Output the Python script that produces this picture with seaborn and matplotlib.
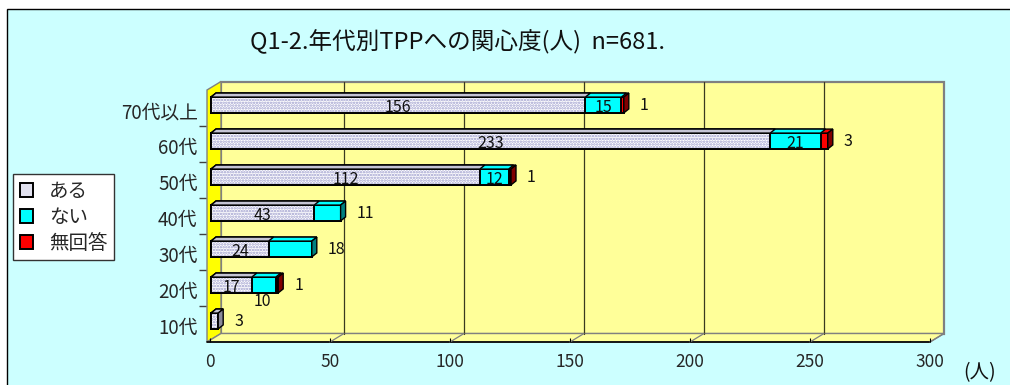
import matplotlib
matplotlib.use("Agg")
import numpy as np
import pandas as pd
import matplotlib.pyplot as plt
import seaborn as sns
from matplotlib.patches import Polygon, Rectangle, Patch
from matplotlib.lines import Line2D
from matplotlib.transforms import IdentityTransform, ScaledTranslation

# ---- survey counts by age group ----
age_groups = ["70代以上", "60代", "50代", "40代", "30代", "20代", "10代"]
aru = [156, 233, 112, 43, 24, 17, 3]          # ある
nai = [15, 21, 12, 11, 18, 10, 0]             # ない
no_answer = [1, 3, 1, 0, 0, 1, 0]             # 無回答
series_names = ["ある", "ない", "無回答"]
x_ticks = [0, 50, 100, 150, 200, 250, 300]
title_text = "Q1-2.年代別TPPへの関心度(人)  n=681."
unit_text = "(人)"

# value-label placement that differs from the default
label_place = {
    ("ない", "40代"): "right",
    ("ない", "30代"): "right",
    ("ない", "20代"): "below",
    ("ある", "10代"): "right",
}

# ---- style ----
W, H, DPI = 1010, 385, 100
BG = "#CCFFFF"
WALL = "#FFFF99"
SIDE_WALL = "#FFFF00"
FRAME_GREY = "#808080"
DOT = "#9C9CCC"
CYAN = "#00FFFF"
RED = "#FF0000"
top_col = {"ある": "#C4C4D4", "ない": CYAN, "無回答": RED}
side_col = {"ある": "#8A8A9A", "ない": "#008080", "無回答": "#800000"}
legend_col = {"ある": "#E2E2F0", "ない": CYAN, "無回答": RED}

# front plane of the 3-D box (image pixels) and depth offset
FX0, FX1, FY0, FY1 = 210, 930, 90, 342
DEPTH_X, DEPTH_Y = 14, 8.5
BAR_DX, BAR_DY = 5, 4          # bar thickness
BAR_SET_X, BAR_SET_Y = 1, 3    # bars sit slightly back from the front plane

sns.set_theme(style="white")
plt.rcParams["font.family"] = ["Noto Sans CJK JP", "DejaVu Sans"]
plt.rcParams["hatch.linewidth"] = 1.2

df = pd.DataFrame({"group": age_groups, "ある": aru, "ない": nai, "無回答": no_answer})
df["c1"] = df["ある"]
df["c2"] = df["ある"] + df["ない"]
df["c3"] = df["c2"] + df["無回答"]

fig = plt.figure(figsize=(W / DPI, H / DPI), dpi=DPI, facecolor="white")
ident = IdentityTransform()


def img(x, y):
    """image-pixel (top-left origin) -> display coords"""
    return (x, H - y)


# chart area with its black frame
fig.add_artist(Rectangle((7, -20), W + 40, H - 9 + 20, transform=ident,
                         facecolor=BG, edgecolor="black", lw=1.0, zorder=-5))

ax = fig.add_axes([FX0 / W, (H - FY1) / H, (FX1 - FX0) / W, (FY1 - FY0) / H])
ax.patch.set_visible(False)

bar_w = 0.44
layers = [("c3", RED, "無回答"), ("c2", CYAN, "ない")]
for col, colr, _ in layers:
    sns.barplot(data=df, y="group", x=col, order=age_groups, orient="h",
                color=colr, saturation=1, width=bar_w, edgecolor="black",
                linewidth=1.4, ax=ax, zorder=2)
sns.barplot(data=df, y="group", x="c1", order=age_groups, orient="h",
            color="white", saturation=1, width=bar_w, edgecolor=DOT,
            linewidth=0, hatch="......", ax=ax, zorder=2)

ax.set_xlim(0, 300)
ax.set_ylim(len(age_groups) - 0.5, -0.5)
ax.set_xlabel("")
ax.set_ylabel("")
for s in ax.spines.values():
    s.set_visible(False)

bar_shift = ax.transData + ScaledTranslation(BAR_SET_X / DPI, BAR_SET_Y / DPI,
                                             fig.dpi_scale_trans)
red_bars, cyan_bars, aru_bars = [list(c.patches) for c in ax.containers[:3]]
for p in red_bars + cyan_bars + aru_bars:
    p.set_transform(bar_shift)
for p in aru_bars:
    ax.add_patch(Rectangle((p.get_x(), p.get_y()), p.get_width(), p.get_height(),
                           transform=bar_shift, fill=False, edgecolor="black",
                           lw=1.4, zorder=2.1))

# ---- ticks ----
ax.set_xticks(x_ticks)
ax.set_xticklabels([str(t) for t in x_ticks])
ax.tick_params(axis="x", direction="in", length=3, width=0.8, color="black",
               pad=8, labelsize=12.5, bottom=True)
ax.set_yticks(range(len(age_groups)))
ax.set_yticklabels(age_groups)
ax.tick_params(axis="y", which="major", length=0, pad=6, labelsize=13.5)
ax.set_yticks(np.arange(len(age_groups) - 1) + 0.5, minor=True)
ax.tick_params(axis="y", which="minor", left=True, direction="out", length=5,
               width=1.0, color="#404040")
ax.spines["left"].set_position(("outward", 3))
for lab in ax.get_yticklabels():
    lab.set_transform(lab.get_transform() + ScaledTranslation(0, -2 / DPI, fig.dpi_scale_trans))

# ---- 3-D box: back wall, left wall, floor ----
fig.canvas.draw()
to_disp = ax.transData.transform
bx0, by0 = img(FX0 - 3 + DEPTH_X, FY0 - DEPTH_Y)
bx1, by1 = img(FX1 + DEPTH_X, FY1 - DEPTH_Y)
ax.add_patch(Polygon([(bx0, by0), (bx1, by0), (bx1, by1), (bx0, by1)], closed=True,
                     transform=ident, clip_on=False, facecolor=WALL,
                     edgecolor=FRAME_GREY, lw=1.6, zorder=0.1))
lw_pts = [img(FX0 - 3, FY1), img(FX0 - 3, FY0),
          img(FX0 - 3 + DEPTH_X, FY0 - DEPTH_Y), img(FX0 - 3 + DEPTH_X, FY1 - DEPTH_Y)]
ax.add_patch(Polygon(lw_pts, closed=True, transform=ident, clip_on=False,
                     facecolor=SIDE_WALL, edgecolor=FRAME_GREY, lw=1.0, zorder=0.2))
fl_pts = [img(FX0 - 3, FY1), img(FX1, FY1),
          img(FX1 + DEPTH_X, FY1 - DEPTH_Y), img(FX0 - 3 + DEPTH_X, FY1 - DEPTH_Y)]
ax.add_patch(Polygon(fl_pts, closed=True, transform=ident, clip_on=False,
                     facecolor=WALL, edgecolor=FRAME_GREY, lw=1.0, zorder=0.2))
# front edge of the floor
ax.add_line(Line2D([fl_pts[0][0], fl_pts[1][0]], [fl_pts[0][1], fl_pts[1][1]],
                   transform=ident, color="black", lw=1.2, clip_on=False, zorder=0.3))

for t in x_ticks[1:]:
    fx = to_disp((t, 0))[0]
    fy = H - FY1
    if t < x_ticks[-1]:
        ax.add_line(Line2D([fx + DEPTH_X, fx + DEPTH_X], [fy + DEPTH_Y, H - FY0 + DEPTH_Y],
                           transform=ident, color="#3A3A20", lw=0.9, clip_on=False, zorder=0.3))
    ax.add_line(Line2D([fx, fx + DEPTH_X], [fy, fy + DEPTH_Y], transform=ident,
                       color=FRAME_GREY, lw=0.9, clip_on=False, zorder=0.3))

# ---- bar tops and ends ----
values = {"ある": aru, "ない": nai, "無回答": no_answer}
for i in range(len(age_groups)):
    for bars, name in ((red_bars, "無回答"), (cyan_bars, "ない"), (aru_bars, "ある")):
        p = bars[i]
        (x0, y0), (x1, y1) = bar_shift.transform(
            [(p.get_x(), p.get_y()), (p.get_x() + p.get_width(), p.get_y() + p.get_height())])
        xl, xr = min(x0, x1), max(x0, x1)
        yt = max(y0, y1)
        if xr - xl > 0.1:
            ax.add_patch(Polygon([(xl, yt), (xr, yt), (xr + BAR_DX, yt + BAR_DY),
                                  (xl + BAR_DX, yt + BAR_DY)], closed=True,
                                 transform=ident, clip_on=False, facecolor=top_col[name],
                                 edgecolor="black", lw=1.0, zorder=2.5))
    last = [s for s in series_names if values[s][i] > 0][-1]
    p = red_bars[i]
    (x0, y0), (x1, y1) = bar_shift.transform(
        [(p.get_x(), p.get_y()), (p.get_x() + p.get_width(), p.get_y() + p.get_height())])
    xr, yb, yt = max(x0, x1), min(y0, y1), max(y0, y1)
    ax.add_patch(Polygon([(xr, yb), (xr, yt), (xr + BAR_DX, yt + BAR_DY),
                          (xr + BAR_DX, yb + BAR_DY)], closed=True, transform=ident,
                         clip_on=False, facecolor=side_col[last], edgecolor="black",
                         lw=1.0, zorder=2.6))

# ---- value labels ----
for i, g in enumerate(age_groups):
    start = 0
    for s in series_names:
        v = values[s][i]
        end = start + v
        if v > 0:
            mode = label_place.get((s, g), "right" if s == "無回答" else "center")
            if mode == "center":
                ax.annotate(str(v), ((start + end) / 2, i), xytext=(BAR_SET_X, BAR_SET_Y - 2),
                            textcoords="offset pixels", ha="center", va="center",
                            fontsize=11.5, color="#111111", zorder=4)
            elif mode == "right":
                ax.annotate(str(v), (end, i), xytext=(17, BAR_SET_Y),
                            textcoords="offset pixels", ha="left", va="center",
                            fontsize=11.5, color="#111111", zorder=4)
            else:
                ax.annotate(str(v), ((start + end) / 2, i), xytext=(0, BAR_SET_Y - 16),
                            textcoords="offset pixels", ha="center", va="center",
                            fontsize=11.5, color="#111111", zorder=4)
        start = end

# ---- title, unit, legend ----
fig.text(458 / W, 1 - 42 / H, title_text, ha="center", va="center", fontsize=17,
         color="#111111")
fig.text(980 / W, 1 - 373 / H, unit_text, ha="center", va="center", fontsize=14,
         color="#111111")

handles = [Patch(facecolor=legend_col[s], edgecolor="black", lw=1.4) for s in series_names]
leg = fig.legend(handles, series_names, loc="upper left",
                 bbox_to_anchor=(13 / W, 1 - 174 / H), frameon=True, fancybox=False,
                 edgecolor="#333333", facecolor="white", framealpha=1, fontsize=14,
                 handlelength=0.7, handleheight=0.7, handletextpad=0.8,
                 labelspacing=0.25, borderpad=0.35, borderaxespad=0)
leg.get_frame().set_linewidth(1.0)

fig.savefig("out.png", dpi=DPI, facecolor="white")
